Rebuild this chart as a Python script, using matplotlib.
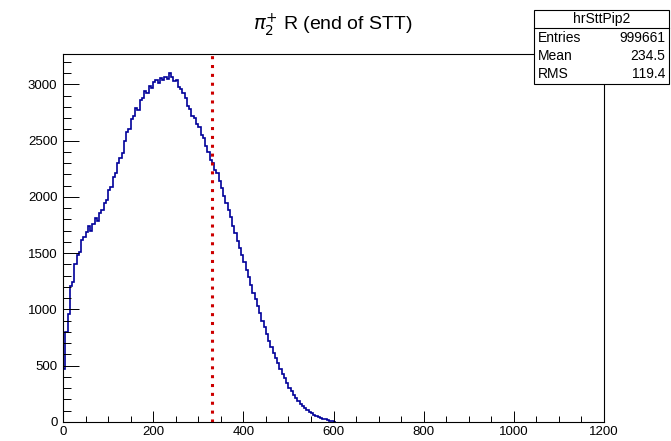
import numpy as np
import matplotlib
matplotlib.use("Agg")
import matplotlib.pyplot as plt
from matplotlib.patches import Rectangle
from matplotlib.lines import Line2D
from matplotlib.ticker import MultipleLocator

plt.rcParams['font.family'] = ['Liberation Sans', 'DejaVu Sans']

# ---- data ----
bin_width = 5
counts = [470, 800, 960, 1210, 1240, 1400, 1480, 1510, 1620, 1640,
          1690, 1740, 1700, 1760, 1810, 1790, 1860, 1880, 1950, 1970,
          2060, 2090, 2180, 2210, 2300, 2350, 2390, 2500, 2580, 2600,
          2690, 2720, 2790, 2770, 2860, 2880, 2940, 2920, 2990, 2970,
          3020, 3040, 3010, 3060, 3040, 3070, 3050, 3100, 3070, 3030,
          3040, 2980, 2960, 2920, 2880, 2810, 2780, 2720, 2700, 2650,
          2620, 2550, 2520, 2450, 2400, 2330, 2300, 2240, 2210, 2140,
          2080, 2010, 1950, 1880, 1820, 1740, 1680, 1610, 1550, 1480,
          1420, 1350, 1290, 1220, 1150, 1090, 1030, 970, 900, 840,
          780, 720, 670, 610, 570, 520, 470, 430, 390, 350,
          305, 275, 240, 212, 188, 162, 140, 122, 104, 90,
          76, 65, 55, 46, 38, 30, 23, 17, 11, 6, 2]
cut_position = 330
title = r"$\pi_{2}^{+}$ R (end of STT)"
hist_name = "hrSttPip2"
stats_labels = ["Entries", "Mean", "RMS"]
stats_values = ["999661", "234.5", "119.4"]
x_range = (0, 1200)
y_range = (0, 3270)

W, H = 671, 441
fig = plt.figure(figsize=(W / 100, H / 100), dpi=100)
L, R, T, B = 63, 604, 54, 422
ax = fig.add_axes([L / W, 1 - B / H, (R - L) / W, (B - T) / H])

edges = np.arange(len(counts) + 1) * bin_width
ax.stairs(counts, edges, color='#000099', linewidth=1.2)
ax.axvline(cut_position, color='#cc0000', linewidth=2.2,
           linestyle=(0, (1, 1.9)), dash_capstyle='butt')

ax.set_xlim(*x_range)
ax.set_ylim(*y_range)

ax.xaxis.set_major_locator(MultipleLocator(200))
ax.xaxis.set_minor_locator(MultipleLocator(50))
ax.yaxis.set_major_locator(MultipleLocator(500))
ax.yaxis.set_minor_locator(MultipleLocator(100))

for s in ax.spines.values():
    s.set_linewidth(0.8)
    s.set_color('black')

ax.tick_params(axis='x', which='major', direction='in', length=8, width=0.7,
               labelsize=9.5, pad=3, top=False)
ax.tick_params(axis='x', which='minor', direction='in', length=4, width=0.7, top=False)
ax.tick_params(axis='y', which='major', direction='in', length=11.7, width=0.7,
               labelsize=9.5, pad=4, right=False)
ax.tick_params(axis='y', which='minor', direction='in', length=5.8, width=0.7, right=False)

# title
fig.text(333 / W, 1 - 25 / H, title, ha='center', va='center', fontsize=14)

# stats box
bx0, bx1, by0, by1 = 534, 669, 10, 84
fig.add_artist(Rectangle((bx0 / W, 1 - by1 / H), (bx1 - bx0) / W, (by1 - by0) / H,
                         transform=fig.transFigure, facecolor='white',
                         edgecolor='black', linewidth=0.8, zorder=10))
fig.add_artist(Line2D([bx0 / W, bx1 / W], [1 - 28 / H, 1 - 28 / H],
                      transform=fig.transFigure, color='black', linewidth=0.8, zorder=11))
fig.text((bx0 + bx1) / 2 / W, 1 - 19 / H, hist_name, ha='center', va='center',
         fontsize=10, zorder=12)
row_y = [37.5, 56, 74.5]
for lab, val, yy in zip(stats_labels, stats_values, row_y):
    fig.text(538 / W, 1 - yy / H, lab, ha='left', va='center', fontsize=10, zorder=12)
    fig.text(665 / W, 1 - yy / H, val, ha='right', va='center', fontsize=10, zorder=12)

fig.savefig("out.png", dpi=100)
